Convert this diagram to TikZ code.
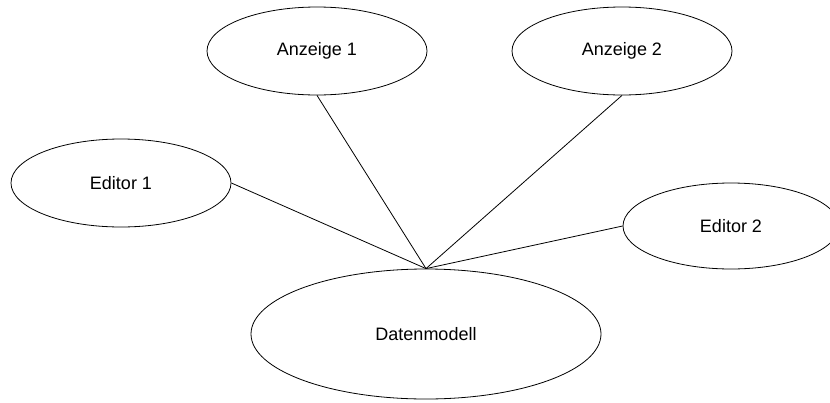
\documentclass[tikz,border=0pt]{standalone}
\usepackage{fontspec}
\setmainfont{Liberation Sans}
\usetikzlibrary{shapes.geometric}

\begin{document}
\begin{tikzpicture}[x=1pt,y=-1pt,
  blob/.style={draw,ellipse,inner sep=0pt,line width=0.8pt,font=\fontsize{18}{20}\selectfont},
  link/.style={line width=0.8pt}]
\useasboundingbox (0,0) rectangle (830,402);
\node[blob,minimum width=220pt,minimum height=88pt] (anz1) at (317,51) {Anzeige 1};
\node[blob,minimum width=220pt,minimum height=88pt] (anz2) at (622,51) {Anzeige 2};
\node[blob,minimum width=220pt,minimum height=88pt] (ed1) at (121,183) {Editor 1};
\node[blob,minimum width=216pt,minimum height=86pt] (ed2) at (731,226) {Editor 2};
\node[blob,minimum width=350pt,minimum height=130pt] (daten) at (426,334) {Datenmodell};
\draw[link] (anz1.south) -- (daten.north);
\draw[link] (anz2.south) -- (daten.north);
\draw[link] (ed1.east) -- (daten.north);
\draw[link] (ed2.west) -- (daten.north);
\end{tikzpicture}
\end{document}
